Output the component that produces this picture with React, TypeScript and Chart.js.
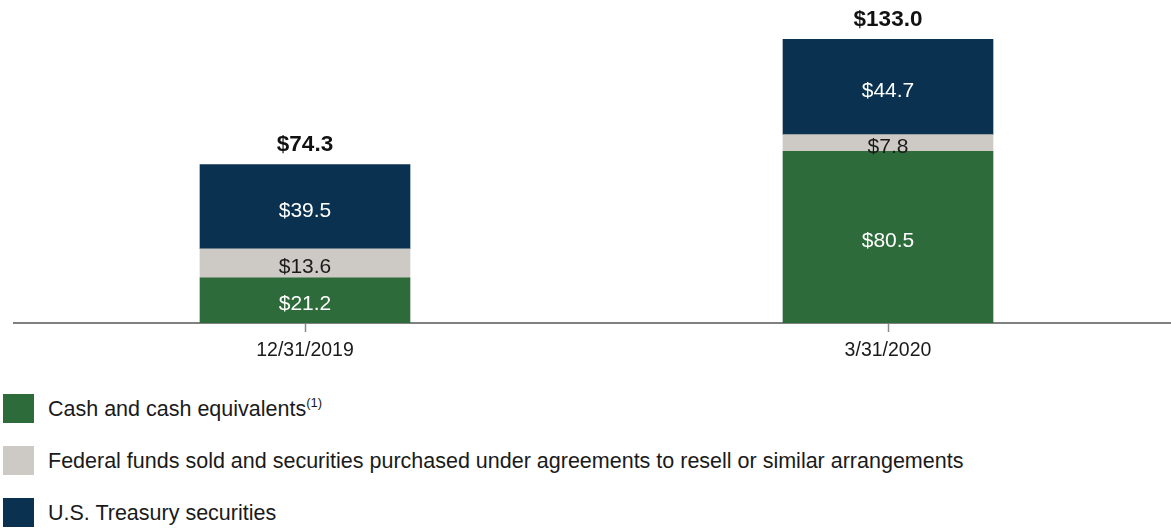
import React, { useEffect, useRef } from "react";
import { Chart, registerables } from "chart.js";

Chart.register(...registerables);

const categories = ["12/31/2019", "3/31/2020"];
const cashValues = [21.2, 80.5];
const fedFundsValues = [13.6, 7.8];
const treasuryValues = [39.5, 44.7];
const seriesNames = [
  "Cash and cash equivalents",
  "Federal funds sold and securities purchased under agreements to resell or similar arrangements",
  "U.S. Treasury securities",
];
const seriesColors = ["#2e6b3a", "#cdcac5", "#0a314f"];
const labelColors = ["#ffffff", "#1a1a1a", "#ffffff"];

const FONT = "'Liberation Sans', Arial, Helvetica, sans-serif";

const fmt = (v: number) => "$" + v.toFixed(1);

const labelPlugin = {
  id: "barLabels",
  afterDatasetsDraw(chart: any) {
    const ctx = chart.ctx;
    ctx.save();
    ctx.textAlign = "center";
    ctx.textBaseline = "alphabetic";
    const n = chart.data.datasets.length;
    for (let d = 0; d < n; d++) {
      const meta = chart.getDatasetMeta(d);
      meta.data.forEach((bar: any, i: number) => {
        const v = chart.data.datasets[d].data[i];
        const cy = (bar.y + bar.base) / 2;
        ctx.font = `21px ${FONT}`;
        ctx.fillStyle = labelColors[d];
        ctx.fillText(fmt(v), bar.x, cy + 10);
      });
    }
    const topMeta = chart.getDatasetMeta(n - 1);
    topMeta.data.forEach((bar: any, i: number) => {
      const total = cashValues[i] + fedFundsValues[i] + treasuryValues[i];
      ctx.font = `bold 22.5px ${FONT}`;
      ctx.fillStyle = "#111111";
      ctx.fillText(fmt(total), bar.x, bar.y - 13);
    });
    ctx.restore();
  },
};

export default function App() {
  const canvasRef = useRef<HTMLCanvasElement | null>(null);

  useEffect(() => {
    if (!canvasRef.current) return;
    const values = [cashValues, fedFundsValues, treasuryValues];
    const chart = new Chart(canvasRef.current, {
      type: "bar",
      data: {
        labels: categories,
        datasets: values.map((arr, k) => ({
          label: seriesNames[k],
          data: arr,
          backgroundColor: seriesColors[k],
          borderWidth: 0,
          barThickness: 210,
        })),
      },
      options: {
        animation: false,
        responsive: false,
        maintainAspectRatio: false,
        layout: { padding: { left: 13.5, right: 0.5, top: 3, bottom: 0 } },
        plugins: {
          legend: { display: false },
          tooltip: { enabled: false },
        },
        scales: {
          x: {
            stacked: true,
            offset: true,
            afterFit: (scale: any) => {
              scale.height = 47;
            },
            grid: {
              offset: false,
              drawOnChartArea: false,
              drawTicks: true,
              tickLength: 9,
              tickColor: "#8a8a8a",
              tickWidth: 1.5,
            },
            border: { display: true, color: "#808080", width: 2 },
            ticks: {
              padding: 7,
              color: "#1a1a1a",
              font: { family: FONT, size: 19.5 },
              maxRotation: 0,
            },
          },
          y: {
            stacked: true,
            display: false,
            min: 0,
            max: 150,
          },
        },
      },
      plugins: [labelPlugin],
    });
    return () => chart.destroy();
  }, []);

  const legendRows = [
    { top: 394, color: seriesColors[0], text: seriesNames[0], sup: "(1)" },
    { top: 446, color: seriesColors[1], text: seriesNames[1], sup: "" },
    { top: 498, color: seriesColors[2], text: seriesNames[2], sup: "" },
  ];

  return (
    <div
      style={{
        position: "absolute",
        left: 0,
        top: 0,
        width: 1171,
        height: 528,
        overflow: "hidden",
        background: "#ffffff",
        fontFamily: FONT,
      }}
    >
      <div style={{ position: "absolute", left: 0, top: 0, width: 1180, height: 370 }}>
        <canvas ref={canvasRef} width={1180} height={370} style={{ display: "block" }} />
      </div>
      {legendRows.map((r, i) => (
        <div key={i}>
          <div
            style={{
              position: "absolute",
              left: 3,
              top: r.top,
              width: 31,
              height: 29,
              background: r.color,
            }}
          />
          <div
            style={{
              position: "absolute",
              left: 48,
              top: r.top + 14.5 - 13,
              height: 26,
              lineHeight: "26px",
              fontSize: 21.5,
              color: "#1a1a1a",
              whiteSpace: "nowrap",
            }}
          >
            {r.text}
            {r.sup ? (
              <sup style={{ fontSize: 13, lineHeight: 0, verticalAlign: "0.7em" }}>{r.sup}</sup>
            ) : null}
          </div>
        </div>
      ))}
    </div>
  );
}
